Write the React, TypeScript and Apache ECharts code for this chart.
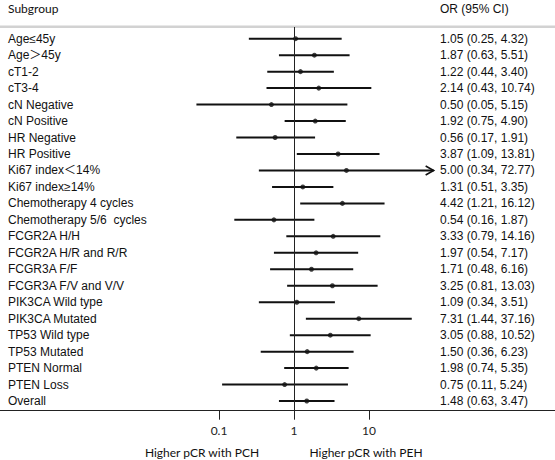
import { useEffect, useRef } from "react";
import * as echarts from "echarts";

const subgroups = [
  "Age≤45y",
  "Age＞45y",
  "cT1-2",
  "cT3-4",
  "cN Negative",
  "cN Positive",
  "HR Negative",
  "HR Positive",
  "Ki67 index＜14%",
  "Ki67 index≥14%",
  "Chemotherapy 4 cycles",
  "Chemotherapy 5/6  cycles",
  "FCGR2A H/H",
  "FCGR2A H/R and R/R",
  "FCGR3A F/F",
  "FCGR3A F/V and V/V",
  "PIK3CA Wild type",
  "PIK3CA Mutated",
  "TP53 Wild type",
  "TP53 Mutated",
  "PTEN Normal",
  "PTEN Loss",
  "Overall",
];
const orValues = [1.05, 1.87, 1.22, 2.14, 0.5, 1.92, 0.56, 3.87, 5.0, 1.31, 4.42, 0.54, 3.33, 1.97, 1.71, 3.25, 1.09, 7.31, 3.05, 1.5, 1.98, 0.75, 1.48];
const ciLower = [0.25, 0.63, 0.44, 0.43, 0.05, 0.75, 0.17, 1.09, 0.34, 0.51, 1.21, 0.16, 0.79, 0.54, 0.48, 0.81, 0.34, 1.44, 0.88, 0.36, 0.74, 0.11, 0.63];
const ciUpper = [4.32, 5.51, 3.4, 10.74, 5.15, 4.9, 1.91, 13.81, 72.77, 3.35, 16.12, 1.87, 14.16, 7.17, 6.16, 13.03, 3.51, 37.16, 10.52, 6.23, 5.35, 5.24, 3.47];
const arrowRows = ["Ki67 index＜14%"];
const xTickValues = [0.1, 1, 10];
const headerLeft = "Subgroup";
const headerRight = "OR (95% CI)";
const footLeft = "Higher pCR with PCH";
const footRight = "Higher pCR with PEH";

const fmt = (v: number) => v.toFixed(2);
const orLabels = subgroups.map(
  (_, i) => `${fmt(orValues[i])} (${fmt(ciLower[i])}, ${fmt(ciUpper[i])})`
);

export default function App() {
  const ref = useRef<HTMLDivElement>(null);
  useEffect(() => {
    if (!ref.current) return;
    const chart = echarts.init(ref.current, null, { renderer: "svg" });
    const rowIdx = subgroups.map((_, i) => i);
    const logTicks = xTickValues.map((v) => Math.log10(v));
    const ink = "#111";
    const armFont = "'Liberation Sans', Arial, 'Noto Sans CJK SC', sans-serif";
    const calFont = "Lato, 'Open Sans', sans-serif";
    // layout: row 0 centre at y=38.7, step 16.47; grid from y=27 to 410.7
    const yMin = (27 - 38.7) / 16.47;
    const yMax = (410.7 - 38.7) / 16.47;
    chart.setOption({
      animation: false,
      backgroundColor: "#fff",
      grid: { left: 0, right: 0, top: 27, bottom: 49.3, containLabel: false },
      xAxis: {
        type: "value",
        min: -294 / 75,
        max: 261 / 75,
        axisLine: { show: true, onZero: false, lineStyle: { color: "#222", width: 1 } },
        axisTick: { show: true, customValues: logTicks, length: 9, lineStyle: { color: "#222", width: 1 } },
        axisLabel: {
          customValues: logTicks,
          formatter: (v: number) => String(Math.round(Math.pow(10, v) * 1000) / 1000),
          margin: 14,
          fontFamily: calFont,
          fontSize: 12,
          color: "#222",
        },
        splitLine: { show: false },
      },
      yAxis: [
        {
          type: "value",
          inverse: true,
          min: yMin,
          max: yMax,
          position: "left",
          axisLine: { show: false, onZero: false },
          axisTick: { show: false },
          splitLine: { show: false },
          axisLabel: {
            inside: true,
            margin: 8,
            customValues: rowIdx,
            formatter: (v: number) => subgroups[Math.round(v)] ?? "",
            fontFamily: armFont,
            fontSize: 12,
            color: ink,
            align: "left",
          },
        },
        {
          type: "value",
          inverse: true,
          min: yMin,
          max: yMax,
          position: "right",
          axisLine: { show: false, onZero: false },
          axisTick: { show: false },
          splitLine: { show: false },
          axisLabel: {
            inside: true,
            margin: 115,
            customValues: rowIdx,
            formatter: (v: number) => orLabels[Math.round(v)] ?? "",
            fontFamily: armFont,
            fontSize: 12,
            color: ink,
            align: "left",
          },
        },
      ],
      series: [
        {
          type: "custom",
          xAxisIndex: 0,
          yAxisIndex: 0,
          silent: true,
          clip: false,
          encode: { x: [0, 1], y: 2 },
          data: subgroups.map((s, i) => [
            Math.log10(ciLower[i]),
            Math.log10(ciUpper[i]),
            i,
            arrowRows.includes(s) ? 1 : 0,
          ]),
          renderItem: (_params: any, api: any) => {
            const lo = api.coord([api.value(0), api.value(2)]);
            const hi = api.coord([api.value(1), api.value(2)]);
            const children: any[] = [
              {
                type: "line",
                shape: { x1: lo[0], y1: lo[1], x2: hi[0], y2: hi[1] },
                style: { stroke: ink, lineWidth: 2 },
              },
            ];
            if (api.value(3)) {
              children.push({
                type: "polyline",
                shape: {
                  points: [
                    [hi[0] - 8, hi[1] - 4.5],
                    [hi[0], hi[1]],
                    [hi[0] - 8, hi[1] + 4.5],
                  ],
                },
                style: { stroke: ink, lineWidth: 1.6, fill: "none" },
              });
            }
            return { type: "group", children };
          },
        },
        {
          type: "scatter",
          xAxisIndex: 0,
          yAxisIndex: 0,
          silent: true,
          symbol: "circle",
          symbolSize: 5,
          itemStyle: { color: ink },
          data: orValues.map((v, i) => [Math.log10(v), i]),
          markLine: {
            silent: true,
            symbol: ["none", "none"],
            label: { show: false },
            lineStyle: { color: "#222", width: 1, type: "solid" },
            data: [{ xAxis: 0 }],
          },
        },
      ],
      graphic: [
        {
          type: "rect",
          shape: { x: 0, y: 25.5, width: 555, height: 2.5 },
          style: { fill: "#d2d2d2" },
          silent: true,
        },
        {
          type: "text",
          x: 8,
          y: 8,
          style: {
            text: headerLeft,
            fontFamily: calFont,
            fontSize: 12,
            fill: ink,
            verticalAlign: "middle",
            align: "left",
          },
        },
        {
          type: "text",
          x: 440,
          y: 9,
          style: {
            text: headerRight,
            fontFamily: armFont,
            fontSize: 12,
            fill: ink,
            verticalAlign: "middle",
            align: "left",
          },
        },
        {
          type: "text",
          x: 202,
          y: 452,
          style: {
            text: footLeft,
            fontFamily: calFont,
            fontSize: 12,
            fill: ink,
            verticalAlign: "middle",
            align: "center",
          },
        },
        {
          type: "text",
          x: 366,
          y: 452,
          style: {
            text: footRight,
            fontFamily: calFont,
            fontSize: 12,
            fill: ink,
            verticalAlign: "middle",
            align: "center",
          },
        },
      ],
    });
    return () => chart.dispose();
  }, []);
  return (
    <div
      ref={ref}
      style={{ position: "fixed", left: 0, top: 0, width: 555, height: 460, background: "#fff" }}
    />
  );
}
